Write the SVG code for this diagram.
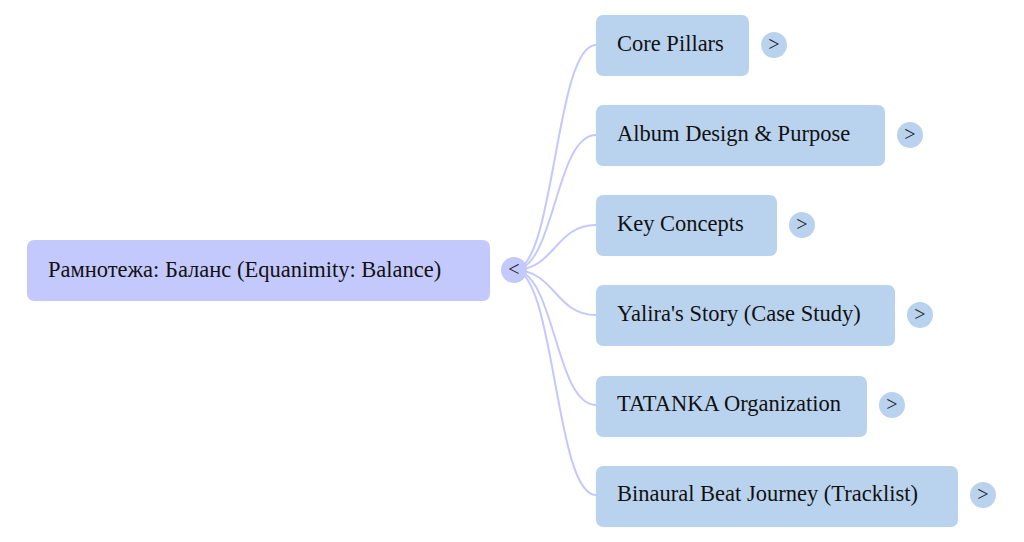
<svg xmlns="http://www.w3.org/2000/svg" width="1024" height="542" viewBox="0 0 1024 542">
<style>
.root rect{fill:#c4c9fd}
.child rect{fill:#b9d3ee}
.lbl{font-family:"Liberation Serif","Times New Roman",serif;font-size:22.5px;fill:#111}
.tog{font-family:"Liberation Serif","Times New Roman",serif;font-size:20px;fill:#222;text-anchor:middle}
.rc{fill:#c4c9fd}
.cc{fill:#b9d3ee}
#connectors path{fill:none;stroke:#c4c9fd;stroke-width:2}
</style>
<rect width="1024" height="542" fill="#fff"/>
<g id="connectors">
<path d="M514 270 C555 270 555 45 596 45"/>
<path d="M514 270 C555 270 555 135 596 135"/>
<path d="M514 270 C555 270 555 225 596 225"/>
<path d="M514 270 C555 270 555 315 596 315"/>
<path d="M514 270 C555 270 555 405 596 405"/>
<path d="M514 270 C555 270 555 495 596 495"/>
</g>
<g id="root" class="root">
<rect x="27" y="240" width="463" height="61" rx="7"/>
<text class="lbl" x="48" y="277">Рамнотежа: Баланс (Equanimity: Balance)</text>
<circle class="rc" cx="514" cy="270" r="13"/>
<text class="tog" x="514" y="276">&lt;</text>
</g>
<g id="n1" class="child">
<rect x="596" y="15" width="153" height="61" rx="7"/>
<text class="lbl" x="617" y="51">Core Pillars</text>
<circle class="cc" cx="774" cy="45" r="13"/>
<text class="tog" x="774" y="51">&gt;</text>
</g>
<g id="n2" class="child">
<rect x="596" y="105" width="289" height="61" rx="7"/>
<text class="lbl" x="617" y="141">Album Design &amp; Purpose</text>
<circle class="cc" cx="910" cy="135" r="13"/>
<text class="tog" x="910" y="141">&gt;</text>
</g>
<g id="n3" class="child">
<rect x="596" y="195" width="181" height="61" rx="7"/>
<text class="lbl" x="617" y="231">Key Concepts</text>
<circle class="cc" cx="802" cy="225" r="13"/>
<text class="tog" x="802" y="231">&gt;</text>
</g>
<g id="n4" class="child">
<rect x="596" y="285" width="299" height="61" rx="7"/>
<text class="lbl" x="617" y="321">Yalira's Story (Case Study)</text>
<circle class="cc" cx="920" cy="315" r="13"/>
<text class="tog" x="920" y="321">&gt;</text>
</g>
<g id="n5" class="child">
<rect x="596" y="376" width="271" height="61" rx="7"/>
<text class="lbl" x="617" y="411">TATANKA Organization</text>
<circle class="cc" cx="892" cy="405" r="13"/>
<text class="tog" x="892" y="411">&gt;</text>
</g>
<g id="n6" class="child">
<rect x="596" y="466" width="362" height="61" rx="7"/>
<text class="lbl" x="617" y="501">Binaural Beat Journey (Tracklist)</text>
<circle class="cc" cx="983" cy="495" r="13"/>
<text class="tog" x="983" y="501">&gt;</text>
</g>
</svg>
